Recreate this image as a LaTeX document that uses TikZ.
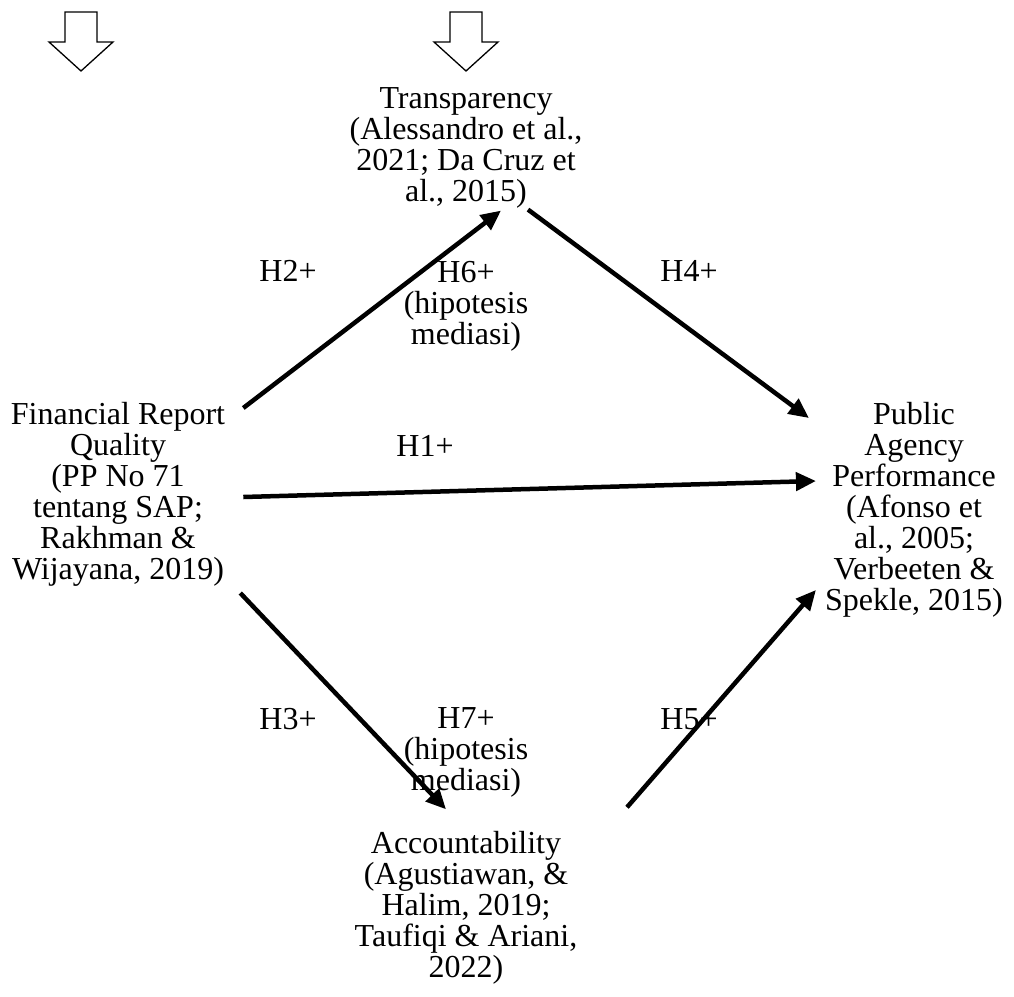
\documentclass[tikz,border=0pt]{standalone}
\usepackage{fontspec}
\setmainfont{Liberation Serif}
\usetikzlibrary{arrows.meta,calc}

\begin{document}
\begin{tikzpicture}[x=1pt,y=-1pt,
	var/.style={align=center,inner sep=0pt,font=\fontsize{32}{31}\selectfont},
	hyp/.style={var},
	link/.style={line width=4.5pt,-{Triangle[length=20pt,width=18pt]}},
	hollow/.style={draw,line width=1.3pt,fill=white,line join=miter}]
	\useasboundingbox (0,0) rectangle (1014,996);
	% block arrows at the top
	\foreach \xx in {81,466}
		\draw[hollow] (\xx-16,12) -- (\xx+16,12) -- (\xx+16,42) -- (\xx+32,42) -- (\xx,71) -- (\xx-32,42) -- (\xx-16,42) -- cycle;

	\node[var] (trans) at (466,148) {Transparency\\(Alessandro et al.,\\2021; Da Cruz et\\al., 2015)};
	\node[var] (frq) at (118,494.5) {Financial Report\\Quality\\(PP No 71\\tentang SAP;\\Rakhman \&\\Wijayana, 2019)};
	\node[var] (pap) at (914,510) {Public\\Agency\\Performance\\(Afonso et\\al., 2005;\\Verbeeten \&\\Spekle, 2015)};
	\node[var] (acc) at (466,908) {Accountability\\(Agustiawan, \&\\Halim, 2019;\\Taufiqi \& Ariani,\\2022)};

	\node[hyp] (h2) at (288,271) {H2+};
	\node[hyp] (h6) at (466,306) {H6+\\(hipotesis\\mediasi)};
	\node[hyp] (h4) at (689,271) {H4+};
	\node[hyp] (h1) at (425,446) {H1+};
	\node[hyp] (h3) at (288,719) {H3+};
	\node[hyp] (h7) at (466,752) {H7+\\(hipotesis\\mediasi)};
	\node[hyp] (h5) at (689,719) {H5+};

	\draw[link] ($(frq.east)+(18,-86.5)$) -- ($(trans.south)+(35,2)$);
	\draw[link] ($(trans.south)+(62,1)$) -- ($(pap.west)+(-16,-92)$);
	\draw[link] ($(frq.east)+(18,2.5)$) -- ($(pap.west)+(-9,-29)$);
	\draw[link] ($(frq.east)+(15,98.5)$) -- ($(acc.north)+(-20,-22)$);
	\draw[link] ($(acc.north)+(161,-24)$) -- ($(pap.west)+(-9,80)$);
\end{tikzpicture}
\end{document}
